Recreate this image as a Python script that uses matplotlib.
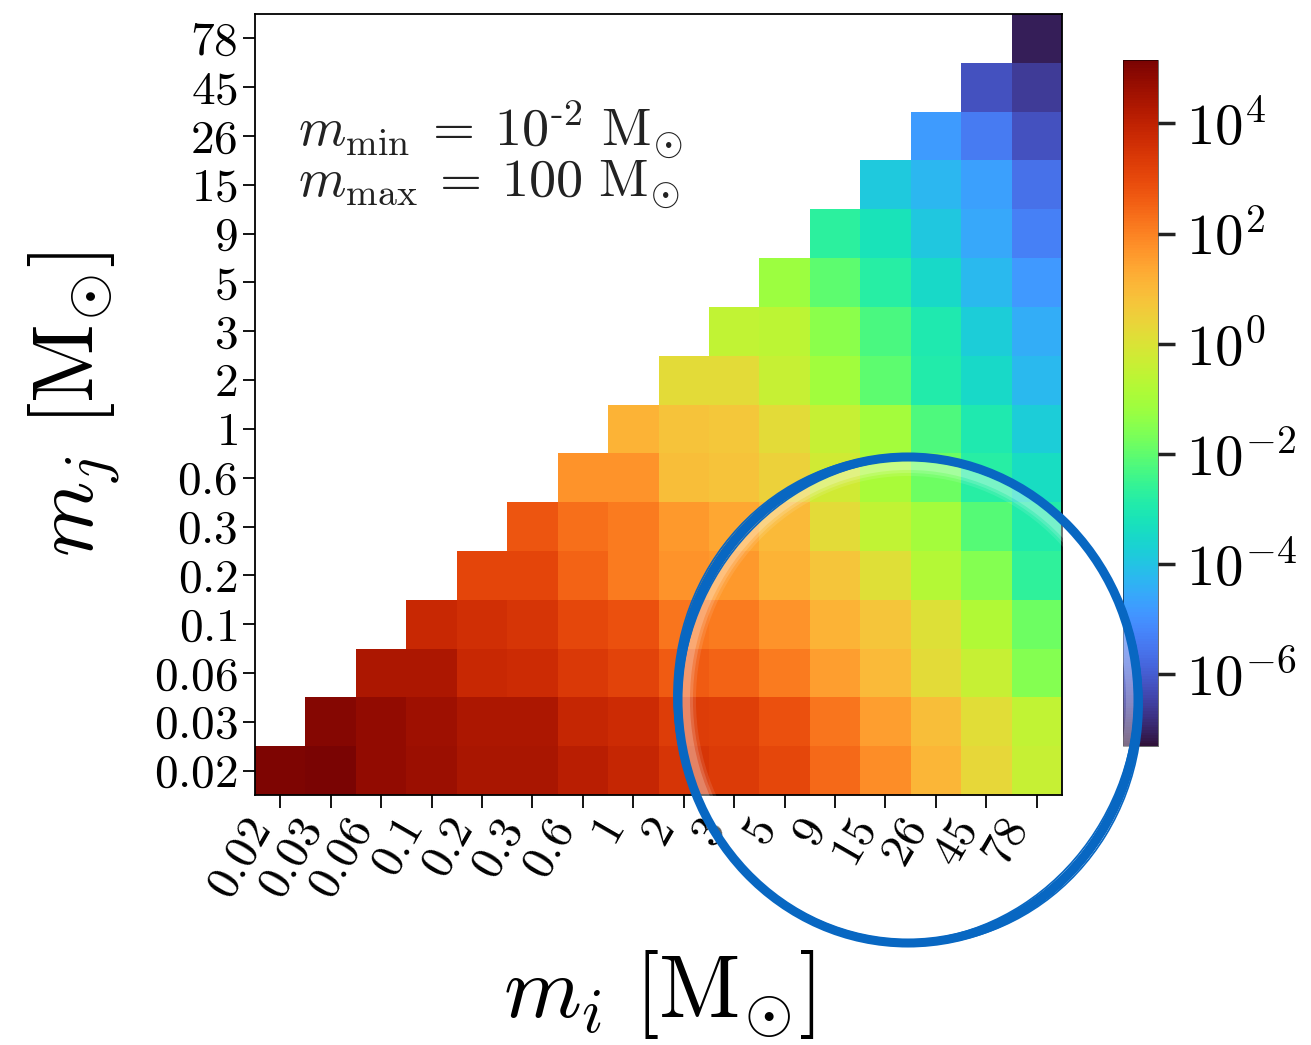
import numpy as np
import matplotlib
matplotlib.use('Agg')
import matplotlib.pyplot as plt
from matplotlib.colors import LogNorm
from matplotlib.patches import Ellipse

plt.rcParams['mathtext.fontset'] = 'cm'
plt.rcParams['font.family'] = 'serif'
plt.rcParams['font.serif'] = ['cmr10', 'DejaVu Serif']
plt.rcParams['axes.formatter.use_mathtext'] = True

# mass bins (tick labels) in solar masses
mass_labels = ['0.02', '0.03', '0.06', '0.1', '0.2', '0.3', '0.6', '1',
               '2', '3', '5', '9', '15', '26', '45', '78']

# log10 of the rate, one list per m_j row, starting at column i = j
row_002 = [5.1, 5.15, 4.8, 4.63, 4.4, 4.4, 4.1, 3.87, 3.45, 3.35, 3.05, 2.42, 1.82, 1.07, 0.3, -0.43]
row_003 = [4.98, 4.8, 4.57, 4.36, 4.36, 3.87, 3.7, 3.3, 3.25, 2.85, 2.2, 1.55, 0.9, 0.18, -0.5]
row_006 = [4.36, 4.36, 3.8, 3.7, 3.38, 3.15, 2.64, 2.52, 2.1, 1.55, 0.98, 0.2, -0.43, -1.54]
row_01 = [3.8, 3.6, 3.45, 3.05, 2.85, 2.2, 2.1, 1.73, 1.16, 0.73, 0.05, -0.8, -1.85]
row_02 = [3.1, 3.1, 2.52, 2.1, 1.73, 1.64, 1.16, 0.73, 0.12, -0.74, -1.54, -2.65]
row_03 = [2.75, 2.3, 2.1, 1.64, 1.38, 0.98, 0.2, -0.5, -1.03, -2.1, -2.9]
row_06 = [1.73, 1.73, 0.9, 0.8, 0.45, -0.2, -0.95, -1.85, -2.8, -3.4]
row_1 = [1.16, 0.8, 0.7, 0.2, -0.43, -1.03, -2.2, -3.0, -3.75]
row_2 = [0.2, 0.2, -0.43, -1.1, -2.03, -2.9, -3.5, -4.2]
row_3 = [-0.5, -0.62, -1.45, -2.28, -3.0, -3.75, -4.45]
row_5 = [-1.2, -2.03, -2.8, -3.5, -4.2, -4.86]
row_9 = [-2.7, -3.2, -3.9, -4.55, -5.35]
row_15 = [-3.85, -4.25, -4.7, -5.6]
row_26 = [-4.8, -5.45, -6.2]
row_45 = [-6.2, -6.6]
row_78 = [-7.1]

rows = [row_002, row_003, row_006, row_01, row_02, row_03, row_06, row_1,
        row_2, row_3, row_5, row_9, row_15, row_26, row_45, row_78]

n = len(mass_labels)
grid = np.full((n, n), np.nan)
for j, r in enumerate(rows):
    grid[j, j:] = 10.0 ** np.array(r)
grid = np.ma.masked_invalid(grid)

vmin, vmax = 10 ** -7.3, 10 ** 5.15

fig = plt.figure(figsize=(13.11, 10.45), dpi=100)
ax = fig.add_axes([255 / 1311, 1 - 795 / 1045, 807 / 1311, 781 / 1045])
mesh = ax.pcolormesh(np.arange(n + 1), np.arange(n + 1), grid,
                     cmap='turbo', norm=LogNorm(vmin=vmin, vmax=vmax))
ax.set_xlim(0, n)
ax.set_ylim(0, n)

centers = np.arange(n) + 0.5
ax.set_xticks(centers)
ax.set_yticks(centers)
ax.set_xticklabels(['$' + s + '$' for s in mass_labels], rotation=60,
                   ha='right', rotation_mode='default')
ax.set_yticklabels(['$' + s + '$' for s in mass_labels])
ax.tick_params(labelsize=34, length=9, width=1.3)
for sp in ax.spines.values():
    sp.set_linewidth(1.3)

ax.set_xlabel(r'$m_i\ [\mathrm{M}_{\odot}]$', fontsize=64, labelpad=30)
ax.set_ylabel(r'$m_j\ [\mathrm{M}_{\odot}]$', fontsize=62, labelpad=22)

ax.text(0.053, 0.832, r'$m_{\rm min}\:=\:10^{\text{-}2}\ \mathrm{M}_{\odot}$',
        transform=ax.transAxes, fontsize=39, color='#222222', va='baseline')
ax.text(0.053, 0.768, r'$m_{\rm max}\:=\:100\ \mathrm{M}_{\odot}$',
        transform=ax.transAxes, fontsize=39, color='#222222', va='baseline')

cax = fig.add_axes([1123 / 1311, 1 - 746 / 1045, 35 / 1311, 686 / 1045])
cb = fig.colorbar(mesh, cax=cax)
cb.set_ticks([1e-6, 1e-4, 1e-2, 1, 1e2, 1e4])
cb.set_ticklabels([r'$10^{-6}$', r'$10^{-4}$', r'$10^{-2}$', r'$10^{0}$',
                   r'$10^{2}$', r'$10^{4}$'])
cb.minorticks_off()
cb.ax.tick_params(labelsize=41, length=12, width=2.5, pad=8, color='#222222')
cb.outline.set_linewidth(0.4)

# hand-drawn looking blue ring (pixel coordinates -> inches)
cx, cy = 9.08, 3.45
for shrink, lw, a in [(0.10, 10, 0.2), (0.16, 10, 0.15), (0.22, 10, 0.10)]:
    glow = Ellipse((cx, cy), 4.60 - shrink, 4.84 - shrink, fill=False, lw=lw,
                   ec='white', alpha=a, transform=fig.dpi_scale_trans, zorder=20)
    fig.add_artist(glow)
for dw, dh, ang, lw in [(0.0, 0.0, 0, 6.5), (0.05, 0.03, 3, 2.5), (-0.04, 0.02, -4, 2.5),
                        (0.03, -0.04, 8, 2), (-0.02, -0.03, -8, 2), (0.07, 0.05, 12, 1.2),
                        (-0.06, -0.02, -14, 1.2)]:
    ring = Ellipse((cx, cy), 4.60 + dw, 4.86 + dh, angle=ang, fill=False, lw=lw,
                   ec='#0867c2', transform=fig.dpi_scale_trans, zorder=21)
    fig.add_artist(ring)

fig.savefig('out.png', dpi=100)
